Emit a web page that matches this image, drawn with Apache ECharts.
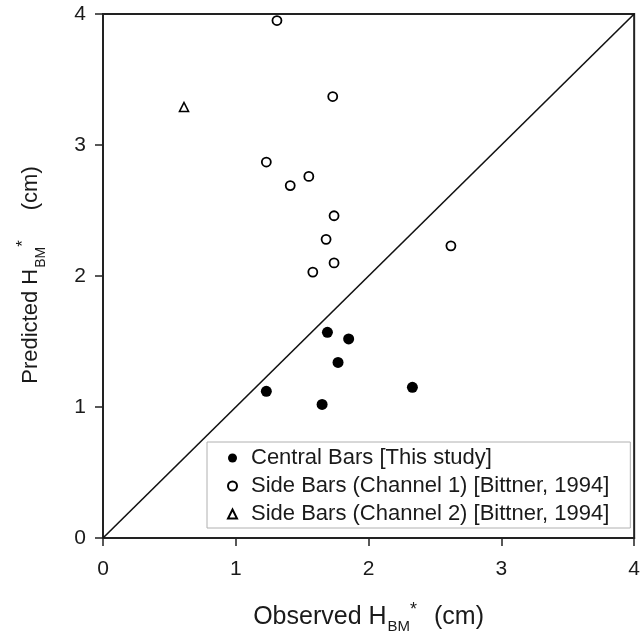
<!DOCTYPE html>
<html>
<head>
<meta charset="utf-8">
<script src="https://cdn.jsdelivr.net/npm/echarts@6/dist/echarts.min.js"></script>
<style>html,body{margin:0;padding:0;background:#fff}#c{width:643px;height:642px}</style>
</head>
<body>
<div id="c"></div>
<script>
var centralBars = [[1.23,1.12],[1.65,1.02],[1.69,1.57],[1.85,1.52],[1.77,1.34],[2.33,1.15]];
var sideBarsCh1 = [[1.31,3.95],[1.73,3.37],[1.23,2.87],[1.41,2.69],[1.55,2.76],[1.74,2.46],[1.68,2.28],[1.74,2.10],[1.58,2.03],[2.62,2.23]];
var sideBarsCh2 = [[0.61,3.29]];
var lineData = [[0,0],[4,4]];
var xTicks = [0,1,2,3,4];
var yTicks = [0,1,2,3,4];
var seriesNames = ['Central Bars [This study]','Side Bars (Channel 1) [Bittner, 1994]','Side Bars (Channel 2) [Bittner, 1994]'];

var FONT = 'Liberation Sans, Arial, sans-serif';
var TXT = '#1a1a1a';
var chart = echarts.init(document.getElementById('c'), null, {renderer:'canvas'});
function nameRich(fs, sub, sup, gap){
  return {
    m:{fontSize:fs,fontFamily:FONT,color:TXT,lineHeight:34,verticalAlign:'middle'},
    sub:{fontSize:sub,fontFamily:FONT,color:TXT,lineHeight:34,verticalAlign:'bottom',padding:[0,0,0,1]},
    sup:{fontSize:sup,fontFamily:FONT,color:TXT,lineHeight:34,verticalAlign:'top',padding:[1,0,0,0]},
    gap:{width:gap,lineHeight:34}
  };
}
var axisCommon = {
  interval: 1,
  axisLine:{show:true,onZero:false,lineStyle:{color:'#222',width:2}},
  axisTick:{show:true,inside:false,length:8,lineStyle:{color:'#222',width:1.5}},
  splitLine:{show:false}
};
chart.setOption({
  animation:false,
  backgroundColor:'#fff',
  grid:{left:103,right:4,top:14,bottom:104,show:true,borderColor:'#222',borderWidth:2,backgroundColor:'transparent'},
  xAxis: Object.assign({}, axisCommon, {
    type:'value', min:xTicks[0], max:xTicks[xTicks.length-1],
    axisLabel:{color:TXT,fontSize:21,fontFamily:FONT,margin:21},
    name:'{m|Observed H}{sub|BM}{sup|*}{gap|}{m|(cm)}',
    nameLocation:'middle', nameGap:62,
    nameTextStyle:{color:TXT,fontFamily:FONT,rich:nameRich(25,15,18,17)}
  }),
  yAxis: Object.assign({}, axisCommon, {
    type:'value', min:yTicks[0], max:yTicks[yTicks.length-1],
    axisLabel:{color:TXT,fontSize:21,fontFamily:FONT,margin:17},
    name:'{m|Predicted H}{sub|BM}{sup|*}{gap|}{m|(cm)}',
    nameLocation:'middle', nameGap:55, nameRotate:90,
    nameTextStyle:{color:TXT,fontFamily:FONT,padding:[0,0,0,2],rich:nameRich(22,14,17,30)}
  }),
  legend:{
    orient:'vertical', left:207, top:442,
    backgroundColor:'#fff', borderColor:'#b0b0b0', borderWidth:1,
    padding:[5,21,3,20], itemGap:6, itemWidth:9, itemHeight:9,
    formatter:function(n){ return '{g|}' + n; },
    textStyle:{fontSize:22,fontFamily:FONT,color:TXT,rich:{g:{width:9}}},
    data:seriesNames
  },
  series:[
    {type:'line',data:lineData,symbol:'none',silent:true,lineStyle:{color:'#111',width:1.6},z:1},
    {name:seriesNames[0],type:'scatter',data:centralBars,symbol:'circle',symbolSize:11,
      itemStyle:{color:'#000',borderColor:'#000',borderWidth:0,opacity:1},z:3},
    {name:seriesNames[1],type:'scatter',data:sideBarsCh1,symbol:'circle',symbolSize:9,
      itemStyle:{color:'#fff',borderColor:'#000',borderWidth:1.8,opacity:1},z:3},
    {name:seriesNames[2],type:'scatter',data:sideBarsCh2,symbol:'triangle',symbolSize:9,
      itemStyle:{color:'#fff',borderColor:'#000',borderWidth:1.6,opacity:1},z:3}
  ]
});
</script>
</body>
</html>
